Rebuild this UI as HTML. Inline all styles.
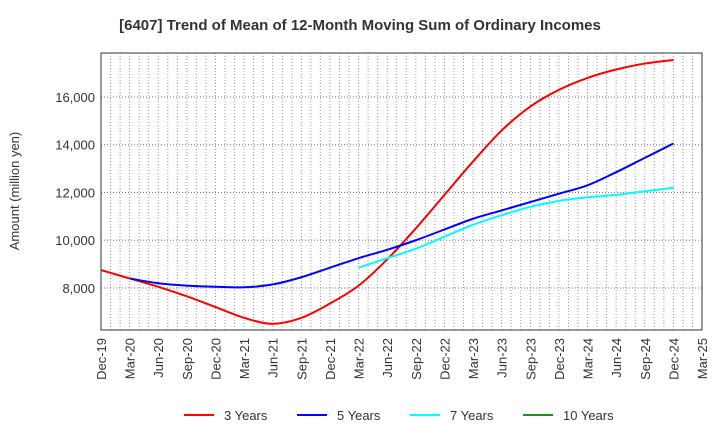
<!DOCTYPE html>
<html><head><meta charset="utf-8"><style>
body{margin:0;background:#fff;}
svg{display:block;font-family:"Liberation Sans",Arial,sans-serif;}
</style></head><body>
<svg id="chart" width="720" height="440">
<text x="360" y="30" text-anchor="middle" font-size="15" font-weight="bold" fill="#333">[6407]  Trend of Mean of 12-Month Moving Sum of Ordinary Incomes</text>
<text transform="translate(19,191) rotate(-90)" text-anchor="middle" font-size="13" fill="#333">Amount (million yen)</text>
<g id="grid"></g><g id="ticks"></g><g id="series"></g>
<rect x="101" y="53" width="601" height="277" fill="none" stroke="#333" stroke-width="1"/>
<g id="legend"></g>
</svg>
<script>
const xLabels=["Dec-19","Mar-20","Jun-20","Sep-20","Dec-20","Mar-21","Jun-21","Sep-21","Dec-21","Mar-22","Jun-22","Sep-22","Dec-22","Mar-23","Jun-23","Sep-23","Dec-23","Mar-24","Jun-24","Sep-24","Dec-24","Mar-25"];
const yTicks=[8000,10000,12000,14000,16000];
const s3=[8750,8400,8050,7650,7200,6750,6500,6750,7350,8100,9200,10500,11900,13300,14600,15600,16300,16800,17150,17400,17550];
const s5=[8400,8200,8100,8050,8030,8150,8450,8850,9250,9600,10000,10450,10900,11250,11600,11950,12300,12850,13450,14050];
const s7=[8850,9250,9650,10150,10650,11050,11400,11650,11800,11900,12050,12200];
const s10=[];
const NS="http://www.w3.org/2000/svg";
const L=101,R=702,T=53,B=330,yMin=6241,yMax=17842;
const xq=i=>L+(R-L)*i/(xLabels.length-1);
const y=v=>B-(v-yMin)/(yMax-yMin)*(B-T);
function mk(tag,attrs,parent){const e=document.createElementNS(NS,tag);for(const k in attrs)e.setAttribute(k,attrs[k]);parent.appendChild(e);return e;}
const grid=document.getElementById('grid'),ticks=document.getElementById('ticks'),ser=document.getElementById('series'),leg=document.getElementById('legend');
for(let m=1;m<(xLabels.length-1)*3;m++){const x=L+(R-L)*m/((xLabels.length-1)*3);
const g=mk('line',{x1:x,x2:x,y1:T,y2:B,stroke:'#999','stroke-dasharray':'1,2','stroke-width':1},grid);

}
yTicks.forEach(v=>{const g=mk('line',{x1:L,x2:R,y1:y(v),y2:y(v),stroke:'#777','stroke-dasharray':'1,2'},grid);


const t=mk('text',{x:L-6,y:y(v)+5,'text-anchor':'end','font-size':13,fill:'#333'},ticks);t.textContent=v.toLocaleString('en-US');

});
xLabels.forEach((l,i)=>{const x=xq(i);const t=mk('text',{transform:`translate(${x+5},338) rotate(-90)`,'text-anchor':'end','font-size':13,fill:'#333'},ticks);t.textContent=l;

});
function path(vals,off){const p=vals.map((v,i)=>[xq(i+off),y(v)]);if(p.length<2)return '';let d=`M${p[0][0]},${p[0][1]}`;
for(let i=0;i<p.length-1;i++){const p0=p[Math.max(0,i-1)],p1=p[i],p2=p[i+1],p3=p[Math.min(p.length-1,i+2)];
d+=` C${p1[0]+(p2[0]-p0[0])/6},${p1[1]+(p2[1]-p0[1])/6} ${p2[0]-(p3[0]-p1[0])/6},${p2[1]-(p3[1]-p1[1])/6} ${p2[0]},${p2[1]}`;}return d;}
[[s3,0,'#ff0000','series-3-years'],[s5,1,'#0000ff','series-5-years'],[s7,9,'#00ffff','series-7-years'],[s10,0,'#228b22','series-10-years']].forEach(([v,o,c,n])=>{
if(!v.length)return;const e=mk('path',{d:path(v,o),fill:'none',stroke:c,'stroke-width':2},ser);

});
[["3 Years",'#ff0000',184],["5 Years",'#0000ff',297],["7 Years",'#00ffff',410],["10 Years",'#228b22',523]].forEach(([t,c,x])=>{
const g=mk('g',{},leg);


mk('line',{x1:x,x2:x+30,y1:415,y2:415,stroke:c,'stroke-width':2},g);
const tx=mk('text',{x:x+40,y:420,'font-size':13,fill:'#333'},g);tx.textContent=t;});
</script>
</body></html>
